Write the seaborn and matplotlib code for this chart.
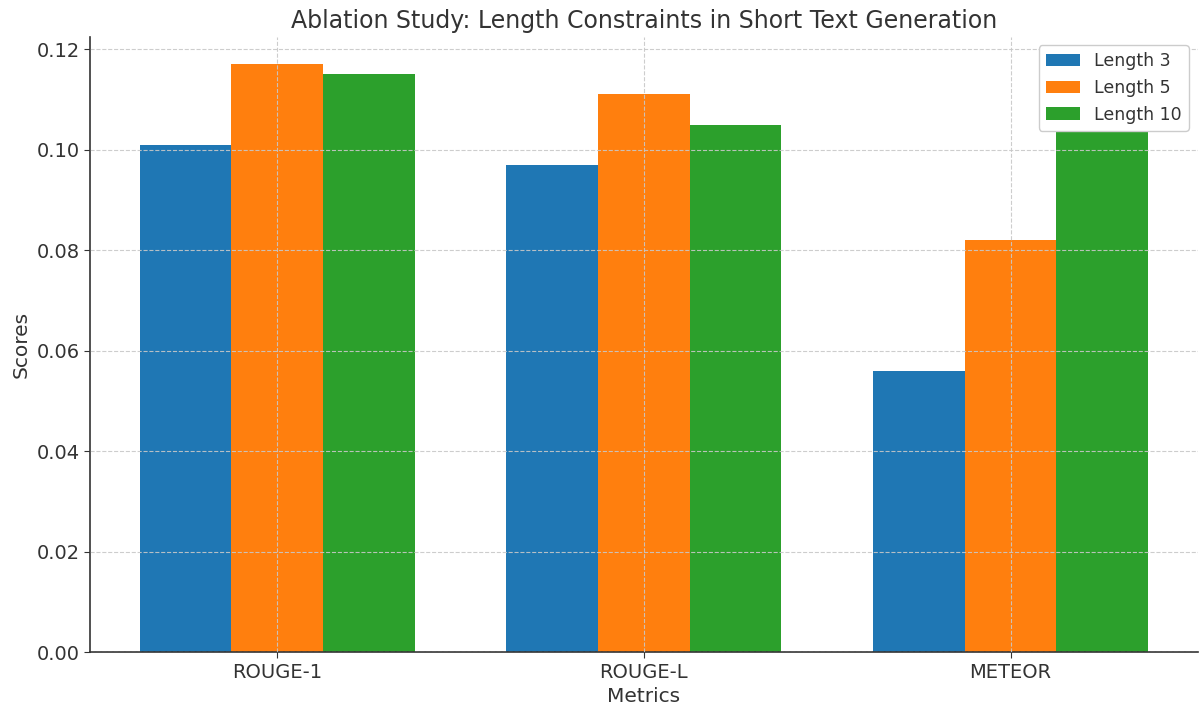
import pandas as pd
import matplotlib
matplotlib.use("Agg")
import matplotlib.pyplot as plt
import seaborn as sns

# Данные
metrics = ["ROUGE-1", "ROUGE-L", "METEOR"]
lengths = ["Length 3", "Length 5", "Length 10"]
length_3 = [0.101, 0.097, 0.056]
length_5 = [0.117, 0.111, 0.082]
length_10 = [0.115, 0.105, 0.112]

df = pd.DataFrame({
    "Metrics": metrics * 3,
    "Length": [lengths[0]] * 3 + [lengths[1]] * 3 + [lengths[2]] * 3,
    "Scores": length_3 + length_5 + length_10,
})

sns.set_style("white")
plt.rcParams["font.family"] = ["DejaVu Sans"]
text_color = "#333333"

fig, ax = plt.subplots(figsize=(12, 7.05), dpi=100)
sns.barplot(data=df, x="Metrics", y="Scores", hue="Length",
            palette=["#1f77b4", "#ff7f0e", "#2ca02c"],
            width=0.75, gap=0, saturation=1, errorbar=None,
            linewidth=0, ax=ax)

ax.set_xlim(-0.51, 2.51)
ax.set_ylim(0, 0.1225)
ax.set_yticks([0.0, 0.02, 0.04, 0.06, 0.08, 0.10, 0.12])
ax.set_yticklabels([f"{v:.2f}" for v in ax.get_yticks()])

ax.set_axisbelow(False)
ax.grid(True, linestyle="--", color="#c8c8c8", linewidth=0.8, alpha=0.9)

for side in ["top", "right"]:
    ax.spines[side].set_visible(False)
for side in ["left", "bottom"]:
    ax.spines[side].set_color(text_color)
    ax.spines[side].set_linewidth(1.2)

ax.tick_params(axis="both", labelsize=14, colors=text_color, length=4, direction="out",
               left=True, bottom=True)
ax.set_title("Ablation Study: Length Constraints in Short Text Generation",
             fontsize=17, color=text_color)
ax.set_xlabel("Metrics", fontsize=14.5, color=text_color)
ax.set_ylabel("Scores", fontsize=14.5, color=text_color)

leg = ax.legend(loc="upper right", fontsize=12.5, title=None, frameon=True, framealpha=1)
for t in leg.get_texts():
    t.set_color(text_color)

plt.subplots_adjust(left=0.075, right=0.998, top=0.948, bottom=0.075)
plt.savefig("out.png", dpi=100)
